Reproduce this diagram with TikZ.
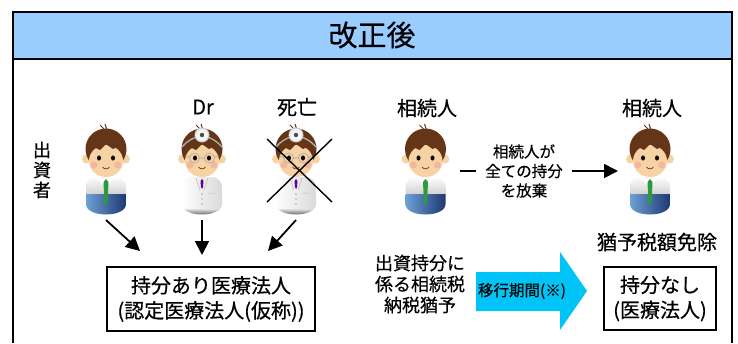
\documentclass[tikz,border=0pt]{standalone}
\usepackage{fontspec}
\setmainfont{Noto Sans CJK JP}[FakeBold=0.5]
\usetikzlibrary{arrows.meta, positioning}
\definecolor{midashi}{HTML}{99CCFF}
\definecolor{iko}{HTML}{00C4F5}
\definecolor{hada}{HTML}{F7D2A4}
\definecolor{kami}{HTML}{653517}
\definecolor{hoho}{HTML}{F2A59A}
\definecolor{nekutai}{HTML}{2F9A3C}
\definecolor{zubonA}{HTML}{6FA3D8}
\definecolor{zubonB}{HTML}{1D356F}
% karada no katachi (kubi kara ashi made)
\newcommand\karada{(-20,36) .. controls (-20,27) and (-14,25) .. (-8,25) -- (8,25)
  .. controls (14,25) and (20,27) .. (20,36) -- (20,52)
  .. controls (20,66) and (-20,66) .. (-20,52) -- cycle}
\tikzset{
	>={Triangle[length=14pt,width=14pt]}, % futoi yajirushi
	waku/.style={line width=2pt},
	ya/.style={->, line width=1.8pt},
	moji/.style={font=\fontsize{20}{25}\selectfont},
	komoji/.style={font=\fontsize{15.5}{19.5}\selectfont, align=center},
	hako/.style={draw, line width=1.6pt, align=center, moji, inner sep=0pt},
	% atama
	pics/atama/.style={code={
		\fill[hada] (-19.5,7) circle[radius=4.5] (19.5,7) circle[radius=4.5];
		\fill[kami] (0,-3) circle[radius=20.5];
		\fill[hada] (0,9) ellipse[x radius=17, y radius=16];
		\fill[kami] (-18,1) -- (-12,-5) -- (-6,-2) -- (0,-8) -- (7,-3) -- (13,-6)
			-- (18,1) -- (18,-12) -- (-18,-12) -- cycle;
		\draw[kami, line width=1pt] (-1,-22) -- (-6,-27) (1,-22) -- (-1,-28);
		\fill[hoho, opacity=.6] (-12,13) circle[radius=3.5] (12,13) circle[radius=3.5];
		\fill[black!85!kami] (-7,6) ellipse[x radius=2, y radius=2.6]
			(7,6) ellipse[x radius=2, y radius=2.6];
		\draw[kami, line width=.7pt] (-3.5,15) .. controls (-1.5,17.5) and (1.5,17.5) .. (3.5,15);
	}},
	% kaishain
	pics/kaishain/.style={code={
		\begin{scope}
			\clip \karada;
			\shade[top color=white, bottom color=gray!35] (-21,24) rectangle (21,42);
			\shade[left color=zubonA, right color=zubonB] (-21,42) rectangle (21,66);
		\end{scope}
		\fill[white] (-8,25) -- (0,28) -- (-4,32) -- cycle (8,25) -- (0,28) -- (4,32) -- cycle;
		\fill[nekutai] (0,27) -- (-2.5,30) -- (-1.6,50) -- (0,54) -- (1.6,50) -- (2.5,30) -- cycle;
		\pic {atama};
		\coordinate (-ashi) at (0,68);
		\coordinate (-migi) at (34.5,19);
		\coordinate (-hidari) at (-32,19);
	}},
	% ishi
	pics/ishi/.style={code={
		\begin{scope}
			\clip \karada;
			\shade[left color=white, right color=gray!30] (-21,24) rectangle (21,58);
			\shade[top color=gray!25, bottom color=black!85] (-21,57) rectangle (21,66);
		\end{scope}
		\draw[gray!55, line width=.5pt] (-6,26) -- (-2,38) (6,26) -- (2,38) (6,41) -- (13,41);
		\fill[violet!75!blue] (0,27) -- (-1.5,29) -- (-1,35) -- (0,37) -- (1,35) -- (1.5,29) -- cycle;
		\fill[gray!65] (0,42) circle[radius=.9] (0,47) circle[radius=.9] (0,52) circle[radius=.9];
		\pic {atama};
		\draw[gray!70, line width=.6pt] (-7.5,6) circle[radius=5] (7.5,6) circle[radius=5]
			(-2.5,6) -- (2.5,6) (-12.5,5) -- (-17,4) (12.5,5) -- (17,4);
		\draw[gray!60, line width=1.3pt] (-20,-5) .. controls (-14,-12) and (-7,-15) .. (0,-17)
			.. controls (7,-15) and (14,-12) .. (20,-5);
		\fill[gray!45] (0,-17) circle[radius=7.5];
		\shade[inner color=white, outer color=gray!12] (0,-17) circle[radius=6.5];
		\fill[black!70] (0,-17) circle[radius=2.2];
		\coordinate (-ashi) at (0,68);
	}}
}

\begin{document}
\begin{tikzpicture}[x=1pt, y=-1pt]
	\useasboundingbox (0,0) rectangle (738,343);
	% midashi to waku
	\draw[waku] (12.5,343) -- (12.5,59) (731.5,59) -- (731.5,343);
	\filldraw[waku, fill=midashi] (12.5,11.5) rectangle (731.5,59);
	\node[font=\fontsize{29}{30}\selectfont] (title) at (372,35) {改正後};

	% hitobito
	\pic (p1) at (106,152) {kaishain};
	\pic (p2) at (202,152) {ishi};
	\pic (p3) at (296,152) {ishi};
	\pic (p4) at (425.5,152) {kaishain};
	\pic (p5) at (650,152) {kaishain};
	\draw[line width=1.4pt] (267,139) -- (332,202) (332,139) -- (267,202);

	\node[font=\fontsize{18}{20}\selectfont, align=center] (shusshi) at (42,170) {出\\資\\者};
	\node[moji] (dr) at (203,107) {Dr};
	\node[moji] (shibo) at (297,107) {死亡};
	\node[moji] (sozoku1) at (427,108) {相続人};
	\node[moji] (sozoku2) at (652,108) {相続人};
	\node[komoji, inner xsep=9pt] (hoki) at (524,171) {相続人が\\全ての持分\\を放棄};
	\node[moji] (menjo) at (657,242) {猶予税額免除};

	% hojin
	\node[hako, minimum width=208pt, minimum height=64pt] (mochibun) at (211,299)
		{持分あり医療法人\\(認定医療法人(仮称))};
	\node[hako, minimum width=112pt, minimum height=63pt] (nashi) at (660,298.5)
		{持分なし\\(医療法人)};
	\node[font=\fontsize{18}{21}\selectfont, align=center] (nozei) at (420,284)
		{出資持分に\\係る相続税\\納税猶予};

	% iko kikan
	\fill[iko] (476,272) -- (560,272) -- (560,252) -- (587,291) -- (560,330)
		-- (560,311) -- (476,311) -- cycle;
	\node[font=\fontsize{15.5}{18}\selectfont] (kikan) at (522,291) {移行期間(※)};

	% yajirushi
	\coordinate (y1) at (140,251);
	\coordinate (y2) at (202,255);
	\coordinate (y3) at (268,251);
	\draw[ya] (p1-ashi) -- (y1);
	\draw[ya] (p2-ashi) -- (y2);
	\draw[ya] (p3-ashi) -- (y3);
	\draw[line width=2.2pt] (p4-migi) -- (hoki.west);
	\draw[ya] (hoki.east) -- (p5-hidari);
\end{tikzpicture}
\end{document}
